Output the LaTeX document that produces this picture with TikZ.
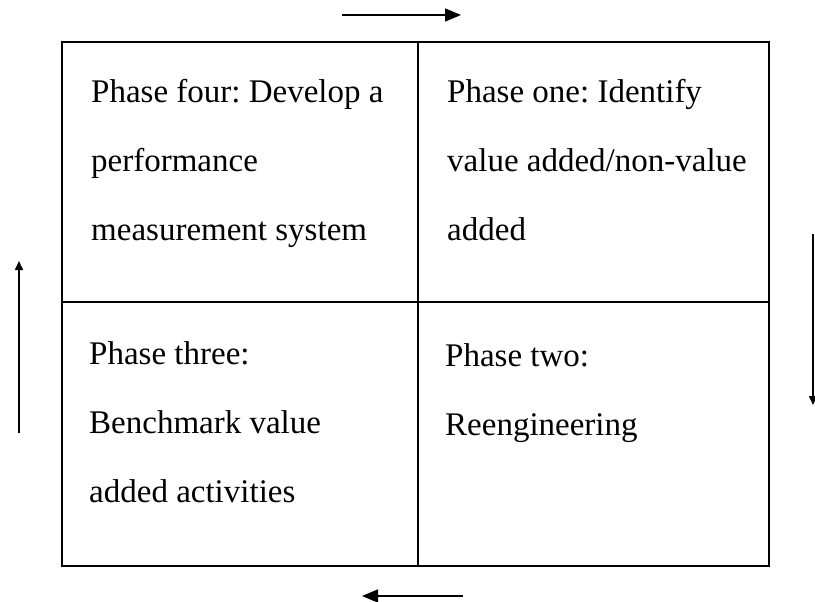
\documentclass[tikz,border=0pt]{standalone}
\usepackage{fontspec}
\setmainfont{Liberation Serif}
\frenchspacing
\usetikzlibrary{arrows.meta}
\begin{document}
\begin{tikzpicture}[x=1pt,y=-1pt,
  cell/.style={draw, line width=1.8pt, rectangle, inner sep=0pt},
  % base anchor of a multi-line node sits on its last line
  phasetext/.style={anchor=base west, align=left, inner sep=0pt,
    font=\fontsize{33}{69}\selectfont},
  flow/.style={line width=1.6pt, -{Triangle[length=16pt,width=13pt]}},
  flowv/.style={line width=1.6pt, -{Triangle[length=9pt,width=8pt]}}]
\useasboundingbox (0,0) rectangle (815,602);
% four quadrants of the cycle
\node[cell, minimum width=356pt, minimum height=260pt] (q4) at (240,172) {};
\node[cell, minimum width=351pt, minimum height=260pt] (q1) at (593.5,172) {};
\node[cell, minimum width=356pt, minimum height=264pt] (q3) at (240,434) {};
\node[cell, minimum width=351pt, minimum height=264pt] (q2) at (593.5,434) {};
% phase descriptions
\node[phasetext] (t4) at (91,240) {Phase four: Develop a\\performance\\measurement system};
\node[phasetext] (t1) at (447,240) {Phase one: Identify\\value added/non-value\\added};
\node[phasetext] (t3) at (89,502) {Phase three:\\Benchmark value\\added activities};
\node[phasetext] (t2) at (445,435) {Phase two:\\Reengineering};
% direction of the cycle
\coordinate (topA) at (342,15);  \coordinate (topB) at (461,15);
\coordinate (rgtA) at (813,234); \coordinate (rgtB) at (813,405);
\coordinate (botA) at (463,596); \coordinate (botB) at (362,596);
\coordinate (lftA) at (19,433);  \coordinate (lftB) at (19,261);
\draw[flow] (topA) -- (topB);
\draw[flowv] (rgtA) -- (rgtB);
\draw[flow] (botA) -- (botB);
\draw[flowv] (lftA) -- (lftB);
\end{tikzpicture}
\end{document}
